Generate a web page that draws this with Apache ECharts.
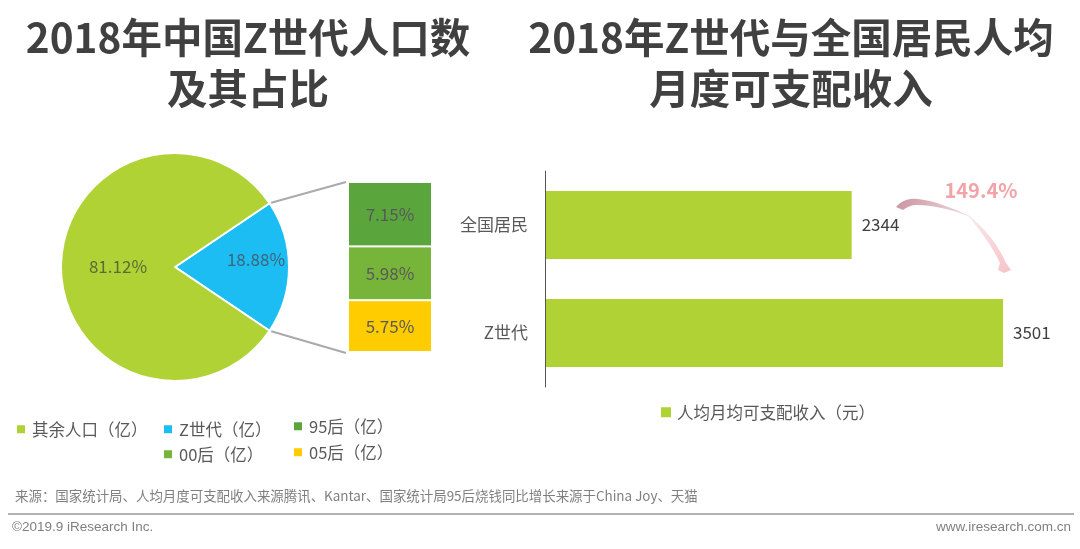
<!DOCTYPE html>
<html>
<head>
<meta charset="utf-8">
<style>
  html, body { margin: 0; padding: 0; background: #fff; }
  #chart { width: 1080px; height: 549px; }
</style>
<script src="https://cdn.jsdelivr.net/npm/echarts@6/dist/echarts.min.js"></script>
</head>
<body>
<div id="chart"></div>
<script>
const pieNames = ["Z世代（亿）", "其余人口（亿）"];
const pieValues = [18.88, 81.12];
const stackNames = ["95后（亿）", "00后（亿）", "05后（亿）"];
const stackValues = [7.15, 5.98, 5.75];
const incomeCategories = ["全国居民", "Z世代"];
const incomeValues = [2344, 3501];
const incomeName = "人均月均可支配收入（元）";
const growthLabel = "149.4%";

const FONT = '"Noto Sans CJK SC", sans-serif';
const LATIN = '"Liberation Sans", sans-serif';
const GREY = "#595959";
const LIME = "#b0d235";
const BLUE = "#1cbdf2";
const stackColors = ["#5aa63c", "#76b53a", "#ffcc00"];

const PIE_CENTER = [175, 267];
const PIE_RADIUS = 114;

// the curved growth arrow between the two bars
echarts.graphic.registerShape("growthArrow", echarts.graphic.extendShape({
  buildPath(ctx) {
    ctx.moveTo(896, 207);
    ctx.bezierCurveTo(902, 200, 910, 198, 918, 199);
    ctx.bezierCurveTo(935, 201, 952, 208, 968, 215);
    ctx.bezierCurveTo(985, 228, 998, 245, 1006, 263);
    ctx.lineTo(1011, 270);
    ctx.lineTo(1004, 273);
    ctx.lineTo(998, 270);
    ctx.lineTo(1000, 263);
    ctx.bezierCurveTo(992, 246, 980, 230, 968, 216);
    ctx.bezierCurveTo(950, 209, 932, 205, 917, 205);
    ctx.bezierCurveTo(911, 205, 907, 207, 903, 210);
    ctx.closePath();
  },
}));

const chart = echarts.init(document.getElementById("chart"));

// one legend per entry, the original scatters them by hand
const legendAt = (name, left, top) => ({
  data: [name],
  left,
  top,
  icon: "rect",
  itemWidth: 10,
  itemHeight: 10,
  padding: 0,
  selectedMode: false,
  textStyle: { fontFamily: FONT, fontSize: 16.5, color: GREY, padding: [0, 0, 0, 1] },
});

const stackSeries = stackNames.map((name, i) => ({
  name,
  type: "bar",
  stack: "z",
  xAxisIndex: 0,
  yAxisIndex: 0,
  barWidth: 84,
  data: [stackValues[i]],
  itemStyle: { color: stackColors[i], borderColor: "#fff", borderWidth: 1 },
  label: {
    show: true,
    position: "inside",
    formatter: "{c}%",
    fontFamily: FONT,
    fontSize: 17,
    color: GREY,
  },
}));

chart.setOption({
  animation: false,
  backgroundColor: "#fff",
  title: [
    { text: "2018年中国Z世代人口数\n及其占比", left: 248, top: 12 },
    { text: "2018年Z世代与全国居民人均\n月度可支配收入", left: 791, top: 12 },
  ].map((t) => ({
    ...t,
    textAlign: "center",
    padding: 0,
    textStyle: { fontFamily: FONT, fontSize: 40.5, fontWeight: "bold", color: "#404040", lineHeight: 51 },
  })),
  legend: [
    legendAt(pieNames[1], 15, 421),
    legendAt(pieNames[0], 162, 421),
    legendAt(stackNames[0], 292, 418),
    legendAt(stackNames[1], 162, 446),
    legendAt(stackNames[2], 292, 444),
    legendAt(incomeName, 661, 404),
  ],
  grid: [
    { left: 348, top: 182, width: 84, height: 170 },
    { left: 545, top: 171, width: 458, height: 216 },
  ],
  xAxis: [
    { type: "category", gridIndex: 0, data: ["z"], show: false },
    { type: "value", gridIndex: 1, min: 0, max: incomeValues[1], show: false },
  ],
  yAxis: [
    { type: "value", gridIndex: 0, min: 0, max: stackValues.reduce((a, b) => a + b, 0), inverse: true, show: false },
    {
      type: "category",
      gridIndex: 1,
      data: incomeCategories,
      inverse: true,
      z: 3,
      axisTick: { show: false },
      axisLine: { lineStyle: { color: "#555", width: 1 } },
      axisLabel: { fontFamily: FONT, fontSize: 17, color: GREY, margin: 17 },
    },
  ],
  series: [
    {
      type: "pie",
      center: PIE_CENTER,
      radius: PIE_RADIUS,
      startAngle: (pieValues[0] / 100) * 180,
      clockwise: true,
      silent: true,
      data: [
        {
          name: pieNames[0],
          value: pieValues[0],
          itemStyle: { color: BLUE },
          label: { offset: [21, -7], color: "#3f6478" },
        },
        {
          name: pieNames[1],
          value: pieValues[1],
          itemStyle: { color: LIME },
          label: { offset: [3, 0] },
        },
      ],
      itemStyle: { borderColor: "#fff", borderWidth: 2 },
      label: {
        show: true,
        position: "inside",
        formatter: "{c}%",
        fontFamily: FONT,
        fontSize: 17,
        color: "#5a6b35",
      },
      labelLine: { show: false },
    },
    ...stackSeries,
    {
      name: incomeName,
      type: "bar",
      xAxisIndex: 1,
      yAxisIndex: 1,
      barWidth: 68,
      data: incomeValues,
      itemStyle: { color: LIME },
      label: {
        show: true,
        position: "right",
        distance: 10,
        fontFamily: FONT,
        fontSize: 17,
        color: "#404040",
      },
    },
  ],
});

// connector lines run from the blue slice's edge to the stacked bar's corners
const sliceHalf = (pieValues[0] / 100) * Math.PI;
const edgeX = PIE_CENTER[0] + (PIE_RADIUS + 2) * Math.cos(sliceHalf);
const edgeDy = (PIE_RADIUS + 1) * Math.sin(sliceHalf);
const stackTop = chart.convertToPixel({ yAxisIndex: 0 }, 0);
const stackBottom = chart.convertToPixel({ yAxisIndex: 0 }, stackValues.reduce((a, b) => a + b, 0));
const connector = (y1, y2) => ({
  type: "line",
  shape: { x1: edgeX, y1, x2: 346, y2 },
  style: { stroke: "#a9a9b0", lineWidth: 2 },
  silent: true,
});

const footerText = (style) => ({
  type: "text",
  silent: true,
  style: { fontFamily: FONT, fill: "#808080", ...style },
});

chart.setOption({
  graphic: [
    connector(PIE_CENTER[1] - edgeDy, stackTop),
    connector(PIE_CENTER[1] + edgeDy, stackBottom + 1),
    {
      type: "growthArrow",
      silent: true,
      style: {
        fill: new echarts.graphic.LinearGradient(0, 0, 1, 1, [
          { offset: 0, color: "#c9939f" },
          { offset: 0.4, color: "#e9cdd3" },
          { offset: 0.55, color: "#f8e6e8" },
          { offset: 1, color: "#f6c3c9" },
        ]),
      },
    },
    {
      type: "text",
      silent: true,
      x: 981,
      y: 190,
      style: {
        text: growthLabel,
        fontFamily: FONT,
        fontSize: 20,
        fontWeight: "bold",
        fill: "#f2a3a8",
        align: "center",
        verticalAlign: "middle",
      },
    },
    {
      ...footerText({
        text: "来源：国家统计局、人均月度可支配收入来源腾讯、Kantar、国家统计局95后烧钱同比增长来源于China Joy、天猫",
        fontSize: 13.45,
        verticalAlign: "middle",
      }),
      x: 15,
      y: 496,
    },
    {
      type: "line",
      silent: true,
      shape: { x1: 8, y1: 514, x2: 1074, y2: 514 },
      style: { stroke: "#999", lineWidth: 1.5 },
    },
    {
      ...footerText({ text: "©2019.9 iResearch Inc.", fontFamily: LATIN, fontSize: 13.5, verticalAlign: "middle" }),
      x: 12,
      y: 527,
    },
    {
      ...footerText({ text: "www.iresearch.com.cn", fontFamily: LATIN, fontSize: 13.5, align: "right", verticalAlign: "middle" }),
      x: 1071,
      y: 527,
    },
  ],
});
</script>
</body>
</html>
